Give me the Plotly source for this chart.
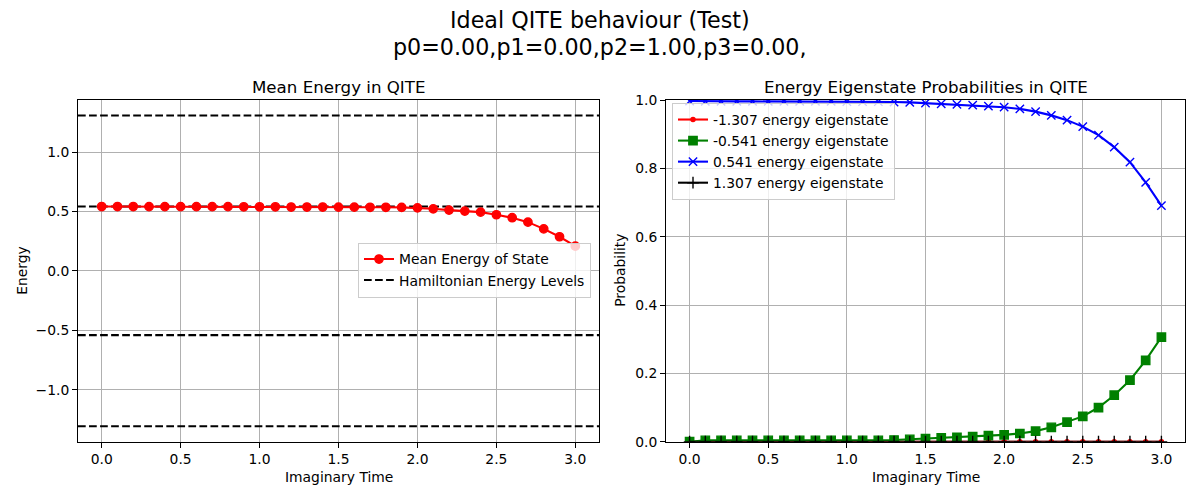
import plotly.graph_objects as go

# ---------------- data ----------------
times = [0.0, 0.1, 0.2, 0.3, 0.4, 0.5, 0.6, 0.7, 0.8, 0.9, 1.0,
         1.1, 1.2, 1.3, 1.4, 1.5, 1.6, 1.7, 1.8, 1.9, 2.0,
         2.1, 2.2, 2.3, 2.4, 2.5, 2.6, 2.7, 2.8, 2.9, 3.0]

mean_energy = [0.541, 0.541, 0.541, 0.540, 0.540, 0.540, 0.540, 0.540, 0.540, 0.539, 0.539,
               0.539, 0.537, 0.537, 0.537, 0.536, 0.536, 0.535, 0.535, 0.534, 0.530,
               0.522, 0.511, 0.503, 0.494, 0.472, 0.447, 0.410, 0.353, 0.287, 0.208]

energy_levels = [-1.307, -0.541, 0.541, 1.307]

prob_m1307 = [0.000, 0.000, 0.000, 0.000, 0.000, 0.000, 0.000, 0.000, 0.000, 0.000, 0.000,
              0.000, 0.000, 0.000, 0.000, 0.000, 0.000, 0.000, 0.000, 0.000, 0.000,
              0.000, 0.000, 0.000, 0.000, 0.000, 0.000, 0.000, 0.000, 0.000, 0.000]
prob_m0541 = [0.000, 0.004, 0.004, 0.004, 0.004, 0.004, 0.004, 0.004, 0.004, 0.004, 0.004,
              0.004, 0.004, 0.005, 0.007, 0.009, 0.011, 0.013, 0.015, 0.018, 0.020,
              0.024, 0.031, 0.042, 0.057, 0.074, 0.100, 0.136, 0.180, 0.238, 0.306]
prob_p0541 = [0.997, 0.996, 0.996, 0.996, 0.996, 0.996, 0.996, 0.996, 0.996, 0.996, 0.995,
              0.995, 0.995, 0.994, 0.993, 0.991, 0.989, 0.987, 0.985, 0.982, 0.979,
              0.974, 0.966, 0.955, 0.941, 0.922, 0.897, 0.862, 0.818, 0.759, 0.691]
prob_p1307 = [0.000, 0.000, 0.000, 0.000, 0.000, 0.000, 0.000, 0.000, 0.000, 0.000, 0.000,
              0.000, 0.000, 0.000, 0.000, 0.000, 0.000, 0.000, 0.000, 0.000, 0.000,
              0.000, 0.000, 0.000, 0.000, 0.000, 0.000, 0.000, 0.000, 0.000, 0.000]

prob_names = ["-1.307 energy eigenstate", "-0.541 energy eigenstate",
              "0.541 energy eigenstate", "1.307 energy eigenstate"]

x_tickvals = [0.0, 0.5, 1.0, 1.5, 2.0, 2.5, 3.0]
x_ticktext = ["0.0", "0.5", "1.0", "1.5", "2.0", "2.5", "3.0"]
e_tickvals = [-1.0, -0.5, 0.0, 0.5, 1.0]
e_ticktext = ["\u22121.0", "\u22120.5", "0.0", "0.5", "1.0"]
p_tickvals = [0.0, 0.2, 0.4, 0.6, 0.8, 1.0]
p_ticktext = ["0.0", "0.2", "0.4", "0.6", "0.8", "1.0"]

suptitle_1 = "Ideal QITE behaviour (Test)"
suptitle_2 = "p0=0.00,p1=0.00,p2=1.00,p3=0.00,"

# ---------------- style ----------------
FONT = "DejaVu Sans"
PX = 100 / 72.0          # px per pt
LW = 1.5 * PX
MS = 6 * PX
FS = 10 * PX

# page offset (browser body margin) and figure size
OFF = 8
W, H = 1200 - OFF, 500 - OFF


def fx(px):
    return (px - OFF) / W


def fy(py):
    return 1 - (py - OFF) / H


# data-derived ranges (matplotlib 5% margins)
tmin, tmax = min(times), max(times)
tpad = 0.05 * (tmax - tmin)
xr = [tmin - tpad, tmax + tpad]
emin, emax = min(energy_levels), max(energy_levels)
epad = 0.05 * (emax - emin)
er = [emin - epad, emax + epad]

fig = go.Figure()

# Hamiltonian energy levels (dashed lines across the full axis width)
hx, hy = [], []
for lv in energy_levels:
    hx += [xr[0], xr[1], None]
    hy += [lv, lv, None]
fig.add_trace(go.Scatter(
    x=hx, y=hy, mode="lines", name="Hamiltonian Energy Levels",
    line=dict(color="black", width=LW, dash=f"{3.7*LW:.2f}px,{1.6*LW:.2f}px"),
    xaxis="x", yaxis="y", legend="legend", legendrank=2))

fig.add_trace(go.Scatter(
    x=times, y=mean_energy, mode="lines+markers", name="Mean Energy of State",
    line=dict(color="red", width=LW),
    marker=dict(symbol="circle", size=MS, color="red", line=dict(color="red", width=PX)),
    xaxis="x", yaxis="y", legend="legend", legendrank=1))

# probabilities
fig.add_trace(go.Scatter(
    x=times, y=prob_m1307, mode="lines+markers", name=prob_names[0],
    line=dict(color="red", width=LW),
    marker=dict(symbol="circle", size=MS * 0.5, color="red", line=dict(color="red", width=PX)),
    xaxis="x2", yaxis="y2", legend="legend2"))
fig.add_trace(go.Scatter(
    x=times, y=prob_m0541, mode="lines+markers", name=prob_names[1],
    line=dict(color="green", width=LW),
    marker=dict(symbol="square", size=MS, color="green", line=dict(color="green", width=PX)),
    xaxis="x2", yaxis="y2", legend="legend2"))
fig.add_trace(go.Scatter(
    x=times, y=prob_p0541, mode="lines+markers", name=prob_names[2],
    line=dict(color="blue", width=LW),
    marker=dict(symbol="x-thin", size=MS, color="blue", line=dict(color="blue", width=PX)),
    xaxis="x2", yaxis="y2", legend="legend2"))
fig.add_trace(go.Scatter(
    x=times, y=prob_p1307, mode="lines+markers", name=prob_names[3],
    line=dict(color="black", width=LW),
    marker=dict(symbol="cross-thin", size=MS, color="black", line=dict(color="black", width=PX)),
    xaxis="x2", yaxis="y2", legend="legend2"))

axis_common = dict(
    showgrid=True, gridcolor="#b0b0b0", gridwidth=0.8 * PX,
    showline=True, linecolor="black", linewidth=0.8 * PX, mirror=True,
    ticks="outside", ticklen=3.5 * PX, tickwidth=0.8 * PX, tickcolor="black",
    zeroline=False, automargin=False,
    tickfont=dict(family=FONT, size=FS, color="black"),
)

YD = [fy(441.7), fy(100)]
XD1 = [fx(78), fx(599)]
XD2 = [fx(666), fx(1185)]

legend_common = dict(
    font=dict(family=FONT, size=FS, color="black"),
    bgcolor="rgba(255,255,255,0.8)", bordercolor="#cccccc", borderwidth=1,
    itemwidth=30, tracegroupgap=0,
)

fig.update_layout(
    width=W, height=H,
    margin=dict(l=0, r=0, t=0, b=0, autoexpand=False),
    paper_bgcolor="white", plot_bgcolor="white",
    font=dict(family=FONT, size=FS, color="black"),
    xaxis=dict(domain=XD1, range=xr, tickvals=x_tickvals, ticktext=x_ticktext,
               anchor="y", **axis_common),
    yaxis=dict(domain=YD, range=er, tickvals=e_tickvals, ticktext=e_ticktext,
               anchor="x", **axis_common),
    xaxis2=dict(domain=XD2, range=xr, tickvals=x_tickvals, ticktext=x_ticktext,
                anchor="y2", **axis_common),
    yaxis2=dict(domain=YD, range=[0, 1], tickvals=p_tickvals, ticktext=p_ticktext,
                anchor="x2", **axis_common),
    legend=dict(x=fx(591), xanchor="right", y=fy(270), yanchor="middle",
                **legend_common),
    legend2=dict(x=fx(672), xanchor="left", y=fy(103), yanchor="top",
                 **legend_common),
    showlegend=True,
)

ann = []
ann.append(dict(text=suptitle_1, x=fx(600), y=fy(20), xref="paper", yref="paper",
                xanchor="center", yanchor="middle", showarrow=False,
                font=dict(family=FONT, size=16 * PX, color="black")))
ann.append(dict(text=suptitle_2, x=fx(600), y=fy(47), xref="paper", yref="paper",
                xanchor="center", yanchor="middle", showarrow=False,
                font=dict(family=FONT, size=16 * PX, color="black")))
ann.append(dict(text="Mean Energy in QITE", x=(XD1[0] + XD1[1]) / 2, y=fy(87),
                xref="paper", yref="paper", xanchor="center", yanchor="middle",
                showarrow=False, font=dict(family=FONT, size=12 * PX, color="black")))
ann.append(dict(text="Energy Eigenstate Probabilities in QITE", x=(XD2[0] + XD2[1]) / 2,
                y=fy(87), xref="paper", yref="paper", xanchor="center",
                yanchor="middle", showarrow=False,
                font=dict(family=FONT, size=12 * PX, color="black")))
for xd in (XD1, XD2):
    ann.append(dict(text="Imaginary Time", x=(xd[0] + xd[1]) / 2, y=fy(477),
                    xref="paper", yref="paper", xanchor="center", yanchor="middle",
                    showarrow=False, font=dict(family=FONT, size=FS, color="black")))
ann.append(dict(text="Energy", x=fx(22), y=(YD[0] + YD[1]) / 2, xref="paper",
                yref="paper", xanchor="center", yanchor="middle", textangle=-90,
                showarrow=False, font=dict(family=FONT, size=FS, color="black")))
ann.append(dict(text="Probability", x=fx(620), y=(YD[0] + YD[1]) / 2, xref="paper",
                yref="paper", xanchor="center", yanchor="middle", textangle=-90,
                showarrow=False, font=dict(family=FONT, size=FS, color="black")))
fig.update_layout(annotations=ann)

fig.write_html("out.html")
